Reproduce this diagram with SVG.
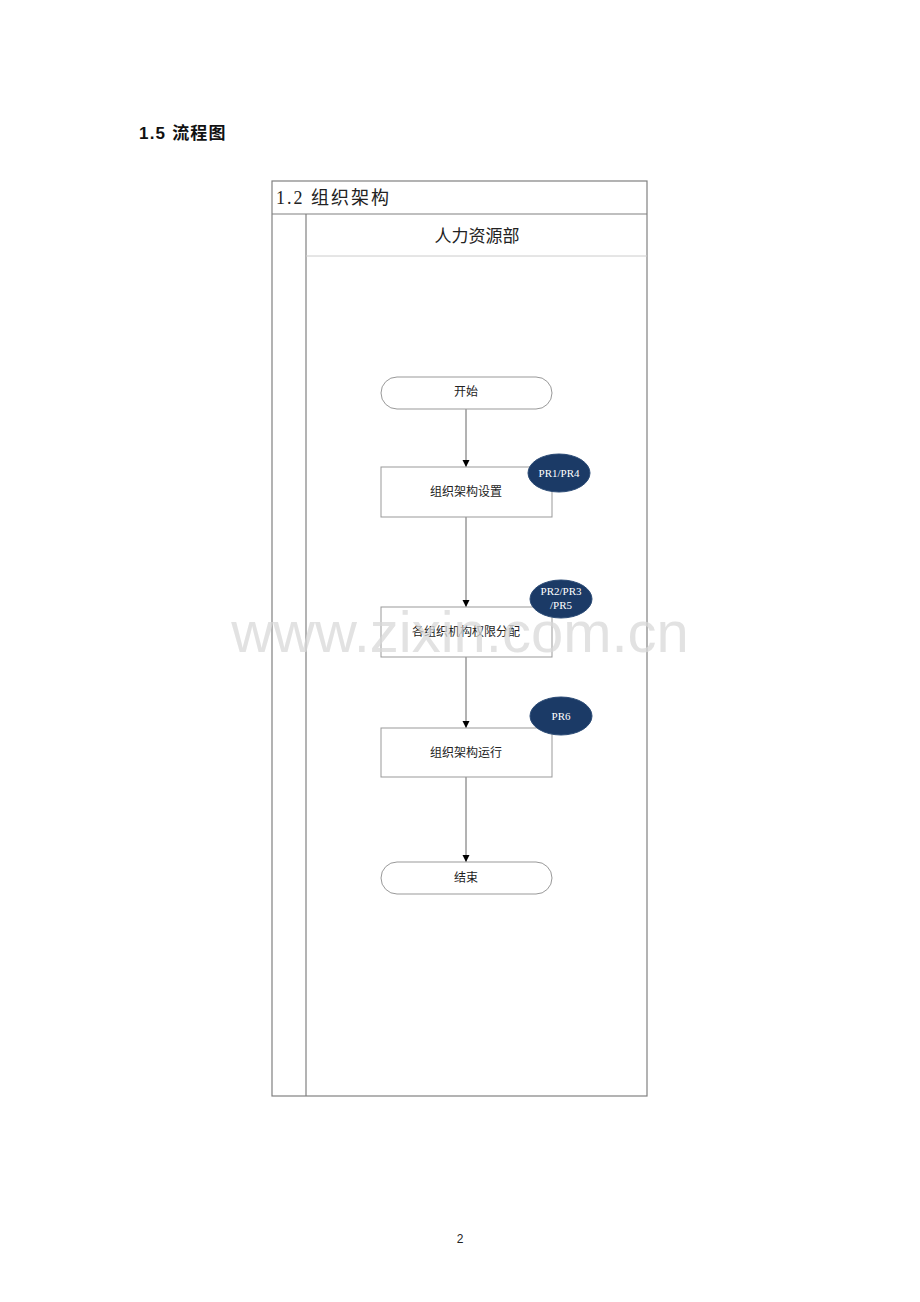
<svg xmlns="http://www.w3.org/2000/svg" width="920" height="1302" viewBox="0 0 920 1302">
<style>
.frame{fill:none;stroke:#808080;stroke-width:1.2}
.box{fill:#fff;stroke:#999;stroke-width:1}
.badge{fill:#1b3a66;stroke:#2a4a75;stroke-width:1}
.t{font-family:"Liberation Serif","Noto Sans CJK SC",serif;fill:#222;text-anchor:middle}
.bt{font-family:"Liberation Serif",serif;fill:#fff;text-anchor:middle;font-size:11px}
.conn{stroke:#666;stroke-width:1;fill:none;marker-end:url(#arr)}
</style>
<defs>
<marker id="arr" markerWidth="8" markerHeight="8" refX="7" refY="4" orient="auto" markerUnits="userSpaceOnUse">
<path d="M0,0.5 L7,4 L0,7.5 Z" fill="#000"/>
</marker>
</defs>
<rect width="920" height="1302" fill="#fff"/>
<text x="139" y="139" font-family="'Liberation Sans','Noto Sans CJK SC',sans-serif" font-size="17" font-weight="bold" letter-spacing="1.2" fill="#111">1.5 流程图</text>
<g id="pool">
<rect class="frame" x="272" y="181" width="375" height="915"/>
<line class="frame" x1="272" y1="214" x2="647" y2="214"/>
<line class="frame" x1="306" y1="214" x2="306" y2="1096"/>
<line x1="306" y1="256" x2="647" y2="256" stroke="#ccc" stroke-width="1"/>
<text x="276" y="204" font-family="'Liberation Serif','Noto Sans CJK SC',serif" font-size="18" letter-spacing="2" fill="#222">1.2 组织架构</text>
<text class="t" x="477" y="242" font-size="17">人力资源部</text>
</g>
<g id="connectors">
<line class="conn" x1="466" y1="409" x2="466" y2="467"/>
<line class="conn" x1="466" y1="517" x2="466" y2="607"/>
<line class="conn" x1="466" y1="657" x2="466" y2="728"/>
<line class="conn" x1="466" y1="777" x2="466" y2="862"/>
</g>
<g id="start">
<rect class="box" x="381" y="377" width="171" height="32" rx="16"/>
<text class="t" x="466" y="396" font-size="12">开始</text>
</g>
<g id="n1">
<rect class="box" x="381" y="467" width="171" height="50"/>
<text class="t" x="466" y="496" font-size="12">组织架构设置</text>
</g>
<g id="b1">
<ellipse class="badge" cx="559" cy="473" rx="31" ry="19"/>
<text class="bt" x="559" y="477">PR1/PR4</text>
</g>
<g id="n2">
<rect class="box" x="381" y="607" width="171" height="50"/>
<text class="t" x="466" y="636" font-size="12">各组织机构权限分配</text>
</g>
<g id="b2">
<ellipse class="badge" cx="561" cy="599" rx="31" ry="19"/>
<text class="bt" x="561" y="595">PR2/PR3</text>
<text class="bt" x="561" y="609">/PR5</text>
</g>
<g id="n3">
<rect class="box" x="381" y="728" width="171" height="49"/>
<text class="t" x="466" y="757" font-size="12">组织架构运行</text>
</g>
<g id="b3">
<ellipse class="badge" cx="561" cy="716" rx="31" ry="19"/>
<text class="bt" x="561" y="720">PR6</text>
</g>
<g id="end">
<rect class="box" x="381" y="862" width="171" height="32" rx="16"/>
<text class="t" x="466" y="882" font-size="12">结束</text>
</g>
<text x="460" y="652" font-family="'Liberation Sans',sans-serif" font-size="58" fill="#d8d8d8" fill-opacity="0.75" text-anchor="middle">www.zixin.com.cn</text>
<text x="460" y="1243" font-family="'Liberation Sans',sans-serif" font-size="12" fill="#222" text-anchor="middle">2</text>
</svg>
